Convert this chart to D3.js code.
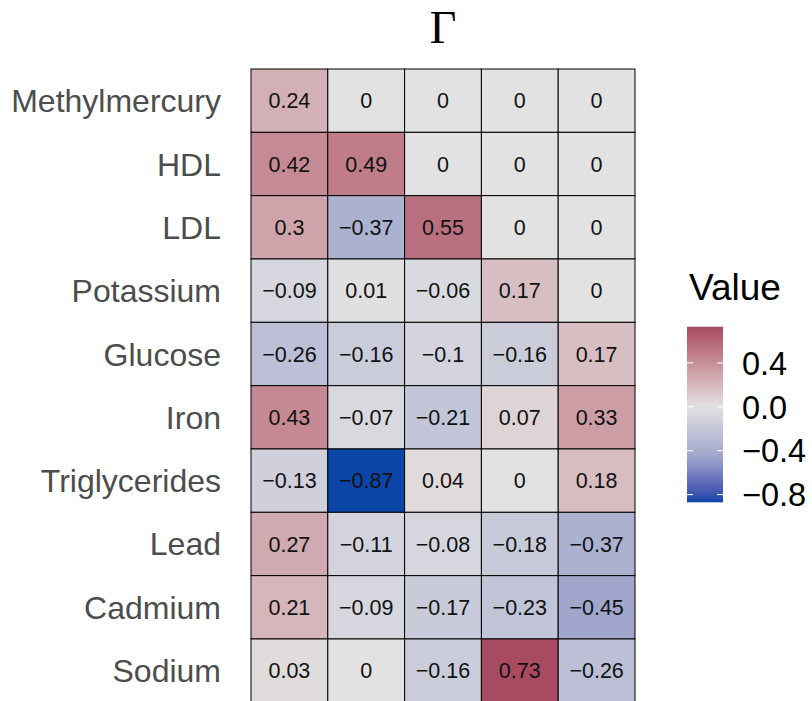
<!DOCTYPE html>
<html>
<head>
<meta charset="utf-8">
<script src="https://cdn.jsdelivr.net/npm/d3@7"></script>
<style>
  body { margin: 0; background: #fff; }
  text { font-family: "Liberation Sans", Arial, sans-serif; }
</style>
</head>
<body>
<div id="chart"></div>
<script>
// rows (top to bottom) and the five unnamed columns
const rows = ["Methylmercury", "HDL", "LDL", "Potassium", "Glucose",
              "Iron", "Triglycerides", "Lead", "Cadmium", "Sodium"];
const cols = [1, 2, 3, 4, 5];

// Gamma matrix values, one array per row
const methylmercury = [0.24, 0, 0, 0, 0];
const hdl           = [0.42, 0.49, 0, 0, 0];
const ldl           = [0.3, -0.37, 0.55, 0, 0];
const potassium     = [-0.09, 0.01, -0.06, 0.17, 0];
const glucose       = [-0.26, -0.16, -0.1, -0.16, 0.17];
const iron          = [0.43, -0.07, -0.21, 0.07, 0.33];
const triglycerides = [-0.13, -0.87, 0.04, 0, 0.18];
const lead          = [0.27, -0.11, -0.08, -0.18, -0.37];
const cadmium       = [0.21, -0.09, -0.17, -0.23, -0.45];
const sodium        = [0.03, 0, -0.16, 0.73, -0.26];

const legendTicks = [0.4, 0.0, -0.4, -0.8];

const matrix = [methylmercury, hdl, ldl, potassium, glucose,
                iron, triglycerides, lead, cadmium, sodium];

const cells = [];
matrix.forEach((vals, i) => vals.forEach((v, j) => cells.push({row: rows[i], col: cols[j], value: v})));

const W = 812, H = 701;
const svg = d3.select("#chart").append("svg")
    .attr("width", W)
    .attr("height", H);

// scales
const x = d3.scaleBand().domain(cols).range([251, 635]);
const y = d3.scaleBand().domain(rows).range([69, 702.3]);

const vmin = d3.min(cells, d => d.value), vmax = d3.max(cells, d => d.value);
// blue side fades slowly from grey, so an extra stop half way
const color = d3.scaleLinear()
    .domain([vmin, vmin * 0.52, 0, vmax])
    .range(["#0b45a8", "#a0a6cc", "#e2e2e2", "#a84a60"])
    .interpolate(d3.interpolateLab);

const fmt = v => v === 0 ? "0" : d3.format("")(v).replace("-", "\u2212");

// title
svg.append("text")
    .attr("x", (x.range()[0] + x.range()[1]) / 2)
    .attr("y", 43)
    .attr("text-anchor", "middle")
    .style("font-family", "'Liberation Serif', 'DejaVu Serif', serif")
    .style("font-size", "46px")
    .text("\u0393");

// tiles
svg.append("g").selectAll("rect")
    .data(cells)
    .join("rect")
    .attr("x", d => x(d.col))
    .attr("y", d => y(d.row))
    .attr("width", x.bandwidth())
    .attr("height", y.bandwidth())
    .attr("fill", d => color(d.value))
    .attr("stroke", "#000")
    .attr("stroke-width", 1);

svg.append("g").selectAll("text")
    .data(cells)
    .join("text")
    .attr("x", d => x(d.col) + x.bandwidth() / 2)
    .attr("y", d => y(d.row) + y.bandwidth() / 2)
    .attr("dy", "0.36em")
    .attr("text-anchor", "middle")
    .style("font-size", "21.5px")
    .style("fill", "#111")
    .text(d => fmt(d.value));

// row labels
svg.append("g").selectAll("text")
    .data(rows)
    .join("text")
    .attr("x", 221)
    .attr("y", d => y(d) + y.bandwidth() / 2)
    .attr("dy", "0.36em")
    .attr("text-anchor", "end")
    .style("font-size", "32px")
    .style("fill", "#4d4d4d")
    .text(d => d);

// legend
const lx = 687, lw = 36, ltop = 326.7, lbot = 502.3;
const ly = d3.scaleLinear().domain([vmin, vmax]).range([lbot, ltop]);

const grad = svg.append("defs").append("linearGradient")
    .attr("id", "legendGrad")
    .attr("x1", 0).attr("y1", 1).attr("x2", 0).attr("y2", 0);
d3.range(0, 1.0001, 0.025).forEach(t => {
  grad.append("stop")
      .attr("offset", t)
      .attr("stop-color", color(vmin + t * (vmax - vmin)));
});

svg.append("text")
    .attr("x", 689)
    .attr("y", 300)
    .style("font-size", "37px")
    .style("fill", "#000")
    .text("Value");

svg.append("rect")
    .attr("x", lx)
    .attr("y", ltop)
    .attr("width", lw)
    .attr("height", lbot - ltop)
    .attr("fill", "url(#legendGrad)");

const lt = svg.append("g").selectAll("g")
    .data(legendTicks)
    .join("g");
lt.append("line")
    .attr("x1", lx).attr("x2", lx + 6)
    .attr("y1", d => ly(d)).attr("y2", d => ly(d))
    .attr("stroke", "#fff").attr("stroke-width", 1);
lt.append("line")
    .attr("x1", lx + lw - 6).attr("x2", lx + lw)
    .attr("y1", d => ly(d)).attr("y2", d => ly(d))
    .attr("stroke", "#fff").attr("stroke-width", 1);
lt.append("text")
    .attr("x", 742)
    .attr("y", d => ly(d))
    .attr("dy", "0.36em")
    .style("font-size", "32.5px")
    .style("fill", "#000")
    .text(d => d3.format(".1f")(d).replace("-", "\u2212"));
</script>
</body>
</html>
